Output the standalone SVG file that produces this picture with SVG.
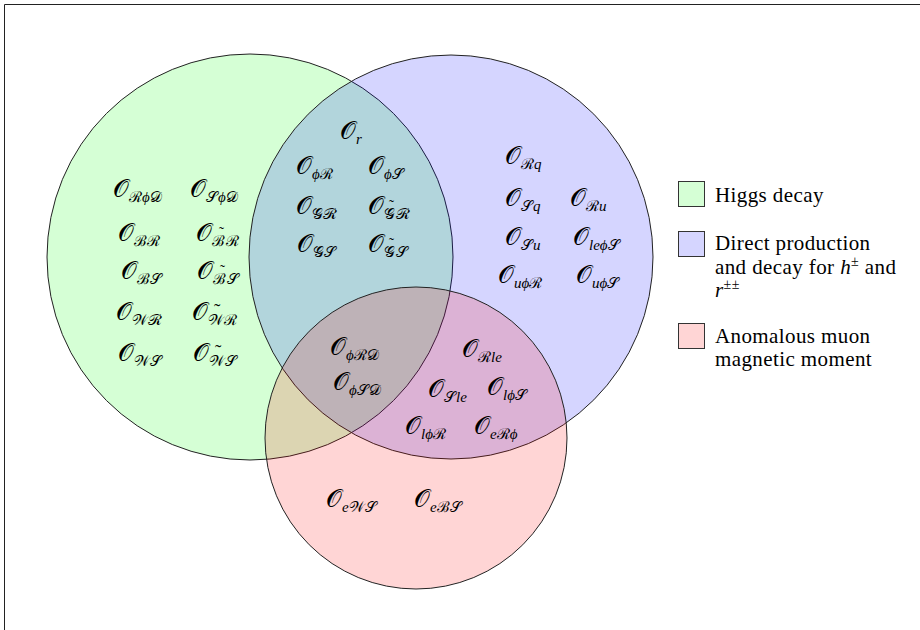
<svg xmlns="http://www.w3.org/2000/svg" width="920" height="630" viewBox="0 0 920 630">
<style>
.set{stroke:#222;stroke-width:1}
.m{fill:#000}
.O{font-size:25px;font-family:'DejaVu Serif','DejaVu Sans',serif}
.s{font-size:15px;font-family:'Liberation Serif',serif;font-style:normal}
.i{font-style:italic}
.t{font-size:15px;font-family:'Liberation Serif',serif}
.tw{font-size:19px;font-family:'Liberation Serif',serif}
.lg{font-family:'Liberation Serif',serif;font-size:21px;letter-spacing:0.4px;fill:#000}
.box{stroke:#333;stroke-width:1}
</style>
<rect width="920" height="630" fill="#fff"/>
<path d="M4.5 630V4.5H920" fill="none" stroke="#222" stroke-width="1"/>
<g id="sets">
<g id="higgs-set"><circle class="set" cx="250" cy="257" r="203" fill="#00ff00" fill-opacity="0.165"/></g>
<g id="direct-set"><circle class="set" cx="451" cy="257" r="202" fill="#0000ff" fill-opacity="0.165"/></g>
<g id="muon-set"><circle class="set" cx="416" cy="438" r="151" fill="#ff0000" fill-opacity="0.165"/></g>
</g>
<g id="labels" class="m">
<g id="higgs-only">
<text x="113" y="197"><tspan class="O">𝒪</tspan><tspan class="s" dy="5">ℛ<tspan class="i">ϕ</tspan>𝒟</tspan></text>
<text x="190" y="197"><tspan class="O">𝒪</tspan><tspan class="s" dy="5">𝒮<tspan class="i">ϕ</tspan>𝒟</tspan></text>
<text x="118" y="241"><tspan class="O">𝒪</tspan><tspan class="s" dy="5">ℬℛ</tspan></text>
<text x="196" y="241"><tspan class="O">𝒪</tspan><tspan class="s" dy="5">ℬ</tspan><tspan class="t" dx="-6" dy="-9">˜</tspan><tspan class="s" dx="1.5" dy="9">ℛ</tspan></text>
<text x="121" y="279"><tspan class="O">𝒪</tspan><tspan class="s" dy="5">ℬ𝒮</tspan></text>
<text x="197" y="279"><tspan class="O">𝒪</tspan><tspan class="s" dy="5">ℬ</tspan><tspan class="t" dx="-6" dy="-9">˜</tspan><tspan class="s" dx="1.5" dy="9">𝒮</tspan></text>
<text x="116" y="320"><tspan class="O">𝒪</tspan><tspan class="s" dy="5">𝒲ℛ</tspan></text>
<text x="192" y="320"><tspan class="O">𝒪</tspan><tspan class="s" dy="5">𝒲</tspan><tspan class="tw" dx="-10" dy="-8">˜</tspan><tspan class="s" dx="3.7" dy="8">ℛ</tspan></text>
<text x="118" y="361"><tspan class="O">𝒪</tspan><tspan class="s" dy="5">𝒲𝒮</tspan></text>
<text x="193" y="361"><tspan class="O">𝒪</tspan><tspan class="s" dy="5">𝒲</tspan><tspan class="tw" dx="-10" dy="-8">˜</tspan><tspan class="s" dx="3.7" dy="8">𝒮</tspan></text>
</g>
<g id="higgs-direct">
<text x="340" y="139"><tspan class="O">𝒪</tspan><tspan class="s i" dy="5">r</tspan></text>
<text x="296" y="174"><tspan class="O">𝒪</tspan><tspan class="s" dy="5"><tspan class="i">ϕ</tspan>ℛ</tspan></text>
<text x="368" y="174"><tspan class="O">𝒪</tspan><tspan class="s" dy="5"><tspan class="i">ϕ</tspan>𝒮</tspan></text>
<text x="296" y="214"><tspan class="O">𝒪</tspan><tspan class="s" dy="5">𝒢ℛ</tspan></text>
<text x="368" y="214"><tspan class="O">𝒪</tspan><tspan class="s" dy="5">𝒢</tspan><tspan class="t" dx="-6" dy="-9">˜</tspan><tspan class="s" dx="1.5" dy="9">ℛ</tspan></text>
<text x="297" y="252"><tspan class="O">𝒪</tspan><tspan class="s" dy="5">𝒢𝒮</tspan></text>
<text x="368" y="252"><tspan class="O">𝒪</tspan><tspan class="s" dy="5">𝒢</tspan><tspan class="t" dx="-6" dy="-9">˜</tspan><tspan class="s" dx="1.5" dy="9">𝒮</tspan></text>
</g>
<g id="direct-only">
<text x="505" y="164"><tspan class="O">𝒪</tspan><tspan class="s" dy="5">ℛ<tspan class="i">q</tspan></tspan></text>
<text x="505" y="206"><tspan class="O">𝒪</tspan><tspan class="s" dy="5">𝒮<tspan class="i">q</tspan></tspan></text>
<text x="570" y="206"><tspan class="O">𝒪</tspan><tspan class="s" dy="5">ℛ<tspan class="i">u</tspan></tspan></text>
<text x="505" y="245"><tspan class="O">𝒪</tspan><tspan class="s" dy="5">𝒮<tspan class="i">u</tspan></tspan></text>
<text x="573" y="245"><tspan class="O">𝒪</tspan><tspan class="s" dy="5"><tspan class="i">leϕ</tspan>𝒮</tspan></text>
<text x="498" y="283"><tspan class="O">𝒪</tspan><tspan class="s" dy="5"><tspan class="i">uϕ</tspan>ℛ</tspan></text>
<text x="576" y="283"><tspan class="O">𝒪</tspan><tspan class="s" dy="5"><tspan class="i">uϕ</tspan>𝒮</tspan></text>
</g>
<g id="all-three">
<text x="330" y="355"><tspan class="O">𝒪</tspan><tspan class="s" dy="5"><tspan class="i">ϕ</tspan>ℛ𝒟</tspan></text>
<text x="333" y="390"><tspan class="O">𝒪</tspan><tspan class="s" dy="5"><tspan class="i">ϕ</tspan>𝒮𝒟</tspan></text>
</g>
<g id="direct-muon">
<text x="462" y="357"><tspan class="O">𝒪</tspan><tspan class="s" dy="5">ℛ<tspan class="i">le</tspan></tspan></text>
<text x="428" y="397"><tspan class="O">𝒪</tspan><tspan class="s" dy="5">𝒮<tspan class="i">le</tspan></tspan></text>
<text x="487" y="395"><tspan class="O">𝒪</tspan><tspan class="s" dy="5"><tspan class="i">lϕ</tspan>𝒮</tspan></text>
<text x="405" y="434"><tspan class="O">𝒪</tspan><tspan class="s" dy="5"><tspan class="i">lϕ</tspan>ℛ</tspan></text>
<text x="474" y="434"><tspan class="O">𝒪</tspan><tspan class="s" dy="5"><tspan class="i">e</tspan>ℛ<tspan class="i">ϕ</tspan></tspan></text>
</g>
<g id="muon-only">
<text x="326" y="507"><tspan class="O">𝒪</tspan><tspan class="s" dy="5"><tspan class="i">e</tspan>𝒲𝒮</tspan></text>
<text x="414" y="507"><tspan class="O">𝒪</tspan><tspan class="s" dy="5"><tspan class="i">e</tspan>ℬ𝒮</tspan></text>
</g>
</g>
<g id="legend">
<g id="legend-higgs">
<rect class="box" x="678.5" y="181.5" width="26" height="25" fill="#d5ffd5"/>
<text class="lg" x="715" y="202">Higgs decay</text>
</g>
<g id="legend-direct">
<rect class="box" x="678.5" y="231.5" width="26" height="25" fill="#d5d5ff"/>
<text class="lg" x="715" y="250">Direct production</text>
<text class="lg" x="715" y="274">and decay for <tspan font-style="italic">h</tspan><tspan font-size="14px" dy="-8">±</tspan><tspan dy="8"> and</tspan></text>
<text class="lg" x="715" y="297"><tspan font-style="italic">r</tspan><tspan font-size="14px" dy="-8">±±</tspan></text>
</g>
<g id="legend-muon">
<rect class="box" x="678.5" y="323.5" width="26" height="25" fill="#ffd5d5"/>
<text class="lg" x="715" y="343">Anomalous muon</text>
<text class="lg" x="715" y="366">magnetic moment</text>
</g>
</g>
</svg>
